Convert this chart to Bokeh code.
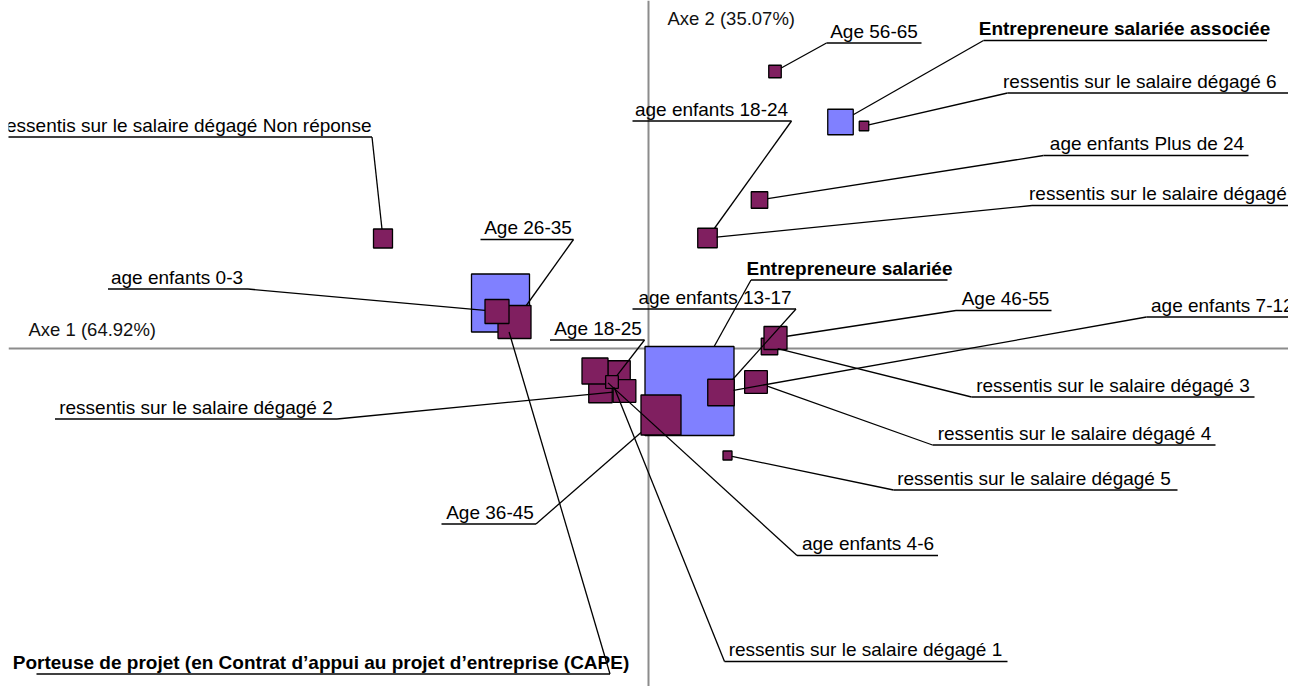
import math
from bokeh.plotting import figure
from bokeh.models import Span, Range1d
from bokeh.core.properties import value
from bokeh.embed import file_html
from bokeh.resources import INLINE

# ---------------- Données : coordonnées factorielles et masses ----------------
inertie_axes = [64.92, 35.07]  # % d'inertie, Axe 1 / Axe 2

# Modalités lignes (ordre = ordre de tracé)
lignes_noms = [
    "ressentis sur le salaire dégagé Non réponse",
    "Age 56-65",
    "ressentis sur le salaire dégagé 6",
    "age enfants Plus de 24",
    "ressentis sur le salaire dégagé 7",
    "age enfants 18-24",
    "Age 26-35",
    "age enfants 0-3",
    "Age 36-45",
    "age enfants 7-12",
    "age enfants 13-17",
    "ressentis sur le salaire dégagé 3",
    "Age 46-55",
    "ressentis sur le salaire dégagé 4",
    "ressentis sur le salaire dégagé 5",
    "age enfants Non réponse",
    "Age Non réponse",
    "ressentis sur le salaire dégagé 2",
    "age enfants 4-6",
    "ressentis sur le salaire dégagé 1",
    "Age 18-25",
]
lignes_axe1 = [-0.531, 0.253, 0.431, 0.222, 0.118, 0.118, -0.268, -0.303, 0.025, 0.145, 0.145,
               0.242, 0.254, 0.215, 0.158, -0.096, -0.059, -0.048, -0.107, -0.073, -0.073]
lignes_axe2 = [0.220, 0.554, 0.445, 0.297, 0.221, 0.221, 0.053, 0.074, -0.133, -0.088, -0.088,
               0.004, 0.021, -0.067, -0.214, -0.085, -0.047, -0.085, -0.045, -0.067, -0.067]
lignes_masse = [3.61, 1.56, 0.90, 2.72, 3.24, 3.80, 10.89, 5.76, 16.0, 6.25, 7.02,
                2.72, 5.29, 5.15, 0.81, 5.52, 5.06, 5.15, 6.76, 1.21, 1.61]

# Modalités colonnes
colonnes_noms = [
    "Porteuse de projet (en Contrat d’appui au projet d’entreprise (CAPE)",
    "Entrepreneure salariée",
    "Entrepreneure salariée associée",
]
colonnes_axe1 = [-0.296, 0.082, 0.384]
colonnes_axe2 = [0.091, -0.085, 0.453]
colonnes_masse = [33.64, 79.21, 6.50]

# ---------------- Mise en page des étiquettes (soulignement x0, x1, y ; ancre texte, alignement) ----------------
etiquettes = {
    "ressentis sur le salaire dégagé Non réponse": (-1.336, -0.553, 0.423, -0.554, "right"),
    "Age 56-65": (0.356, 0.546, 0.611, 0.451, "center"),
    "Entrepreneure salariée associée": (0.670, 1.237, 0.616, 0.952, "center"),
    "ressentis sur le salaire dégagé 6": (0.718, 1.40, 0.511, 0.709, "left"),
    "age enfants 18-24": (-0.032, 0.286, 0.455, 0.126, "center"),
    "age enfants Plus de 24": (0.790, 1.200, 0.386, 0.997, "center"),
    "ressentis sur le salaire dégagé 7": (0.767, 1.40, 0.286, 0.761, "left"),
    "Entrepreneure salariée": (0.205, 0.598, 0.137, 0.402, "center"),
    "age enfants 13-17": (-0.032, 0.295, 0.079, 0.133, "center"),
    "Age 46-55": (0.615, 0.806, 0.076, 0.714, "center"),
    "age enfants 7-12": (0.996, 1.40, 0.063, 1.005, "left"),
    "Age 26-35": (-0.336, -0.150, 0.218, -0.241, "center"),
    "age enfants 0-3": (-1.081, -0.801, 0.119, -0.943, "center"),
    "Age 18-25": (-0.197, -0.008, 0.017, -0.101, "center"),
    "ressentis sur le salaire dégagé 2": (-1.187, -0.623, -0.141, -0.905, "center"),
    "Age 36-45": (-0.414, -0.225, -0.351, -0.317, "center"),
    "Porteuse de projet (en Contrat d’appui au projet d’entreprise (CAPE)": (-1.224, -0.077, -0.651, -0.655, "center"),
    "ressentis sur le salaire dégagé 3": (0.646, 1.212, -0.097, 0.929, "center"),
    "ressentis sur le salaire dégagé 4": (0.568, 1.134, -0.193, 0.852, "center"),
    "ressentis sur le salaire dégagé 5": (0.490, 1.058, -0.283, 0.771, "center"),
    "age enfants 4-6": (0.297, 0.579, -0.414, 0.439, "center"),
    "ressentis sur le salaire dégagé 1": (0.152, 0.718, -0.626, 0.434, "center"),
}

PX = 500.0          # pixels par unité (identique sur les deux axes)
TAILLE = 10.0       # côté du carré (px) = TAILLE * sqrt(masse)
VIOLET = "#801F60"
BLEU = "#8080FF"
FONT = value("Liberation Sans")

p = figure(width=1288, height=686, x_range=Range1d(-1.28, 1.28), y_range=Range1d(-0.676, 0.696),
           output_backend="svg", toolbar_location=None, min_border=0, min_border_left=8,
           x_axis_location=None, y_axis_location=None)
p.outline_line_color = None
p.grid.visible = False
p.background_fill_color = "white"
p.border_fill_color = "white"

# Axes factoriels
p.add_layout(Span(location=0, dimension="width", line_color="#8c8c8c", line_width=2, level="underlay"))
p.add_layout(Span(location=0, dimension="height", line_color="#8c8c8c", line_width=2, level="underlay"))

col_tailles = [TAILLE * math.sqrt(m) for m in colonnes_masse]
lig_tailles = [TAILLE * math.sqrt(m) for m in lignes_masse]

p.scatter(colonnes_axe1, colonnes_axe2, size=col_tailles, marker="square",
          fill_color=BLEU, line_color="black", line_width=1.3)
p.scatter(lignes_axe1, lignes_axe2, size=lig_tailles, marker="square",
          fill_color=VIOLET, line_color="black", line_width=1.3)

points = {}
for n, x, y, t in zip(colonnes_noms, colonnes_axe1, colonnes_axe2, col_tailles):
    points[n] = (x, y, t)
for n, x, y, t in zip(lignes_noms, lignes_axe1, lignes_axe2, lig_tailles):
    points[n] = (x, y, t)

sx0, sy0, sx1, sy1 = [], [], [], []
for nom, (u0, u1, uy, tx, align) in etiquettes.items():
    cx, cy, t = points[nom]
    sx0.append(u0); sy0.append(uy); sx1.append(u1); sy1.append(uy)
    ax = u0 if cx < u0 else u1
    dx, dy = ax - cx, uy - cy
    h = t / 2.0 / PX
    s = min(h / abs(dx) if dx else 1e9, h / abs(dy) if dy else 1e9)
    sx0.append(ax); sy0.append(uy); sx1.append(cx + s * dx); sy1.append(cy + s * dy)

p.segment(sx0, sy0, sx1, sy1, line_color="black", line_width=1.3)

for nom, (u0, u1, uy, tx, align) in etiquettes.items():
    gras = nom in colonnes_noms
    p.text(x=[tx], y=[uy + 12.0 / PX], text=[nom], text_align=align, text_baseline="alphabetic",
           text_font=FONT, text_font_size="19px", text_color="black",
           text_font_style="bold" if gras else "normal")

p.text(x=[-1.24], y=[0.022 + 8.0 / PX], text=[f"Axe 1 ({inertie_axes[0]:.2f}%)"], text_align="left",
       text_baseline="alphabetic", text_font=FONT, text_font_size="18.5px", text_color="#111111")
p.text(x=[0.038], y=[0.644 + 8.0 / PX], text=[f"Axe 2 ({inertie_axes[1]:.2f}%)"], text_align="left",
       text_baseline="alphabetic", text_font=FONT, text_font_size="18.5px", text_color="#111111")

open("out.html", "w").write(file_html(p, INLINE))
